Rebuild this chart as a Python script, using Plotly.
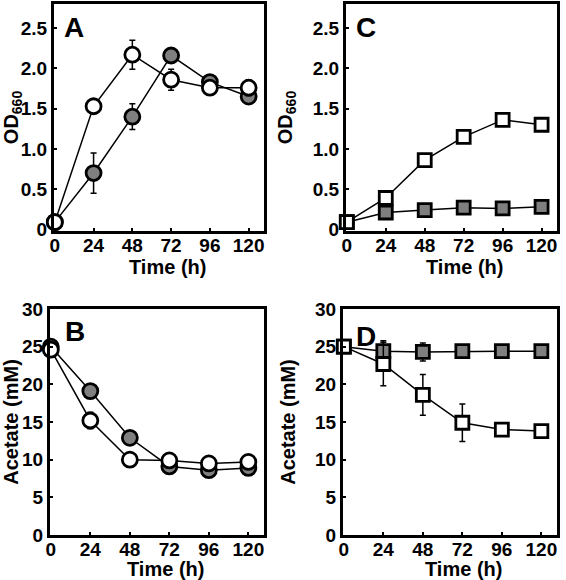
import plotly.graph_objects as go

time_h = [0, 24, 48, 72, 96, 120]
x_ticks = [0, 24, 48, 72, 96, 120]

# Panel A: OD660 (circles)
a_gray = [0.09, 0.70, 1.40, 2.16, 1.83, 1.65]
a_gray_err = [0.0, 0.25, 0.16, 0.0, 0.0, 0.0]
a_open = [0.09, 1.53, 2.17, 1.86, 1.76, 1.76]
a_open_err = [0.0, 0.0, 0.18, 0.13, 0.0, 0.1]

# Panel B: Acetate (circles)
b_gray = [25.0, 19.1, 12.9, 9.1, 8.6, 8.9]
b_gray_err = [0, 0, 0, 0, 0, 0]
b_open = [24.6, 15.2, 10.0, 9.9, 9.5, 9.7]
b_open_err = [0, 1.1, 0, 0, 0, 0]

# Panel C: OD660 (squares)
c_gray = [0.09, 0.21, 0.24, 0.27, 0.26, 0.28]
c_open = [0.09, 0.39, 0.86, 1.15, 1.36, 1.30]

# Panel D: Acetate (squares)
d_gray = [25.0, 24.4, 24.3, 24.4, 24.4, 24.4]
d_gray_err = [0, 1.4, 1.2, 0, 0, 0]
d_open = [25.0, 22.7, 18.6, 14.9, 14.0, 13.8]
d_open_err = [0, 2.9, 2.7, 2.5, 0, 0]

od_ticks = [0, 0.5, 1.0, 1.5, 2.0, 2.5]
od_labels = ["0", "0.5", "1.0", "1.5", "2.0", "2.5"]
ac_ticks = [0, 5, 10, 15, 20, 25, 30]
x_title = "Time (h)"

GRAY = "#7f7f7f"
FONT = "Liberation Sans"

fig = go.Figure()


def add(xa, ya, y, err, symbol, fill, size):
    fig.add_trace(go.Scatter(
        x=time_h, y=y, xaxis=xa, yaxis=ya, mode="lines+markers",
        line=dict(color="black", width=1.5),
        marker=dict(symbol=symbol, size=size, color=fill,
                    line=dict(color="black", width=2.8)),
        error_y=dict(type="data", array=err, visible=True,
                     color="black", thickness=1.5, width=3),
        showlegend=False, cliponaxis=False,
    ))


add("x", "y", a_gray, a_gray_err, "circle", GRAY, 15)
add("x", "y", a_open, a_open_err, "circle", "white", 15)
add("x2", "y2", c_gray, [0] * 6, "square", GRAY, 13)
add("x2", "y2", c_open, [0] * 6, "square", "white", 13)
add("x3", "y3", b_gray, b_gray_err, "circle", GRAY, 15)
add("x3", "y3", b_open, b_open_err, "circle", "white", 15)
add("x4", "y4", d_gray, d_gray_err, "square", GRAY, 13)
add("x4", "y4", d_open, d_open_err, "square", "white", 13)

tickfont = dict(family=FONT, size=19, color="black", weight="bold")
titlefont = dict(family=FONT, size=20, color="black", weight="bold")


def xaxis(domain, anchor):
    return dict(domain=domain, anchor=anchor, range=[-0.5, 129.5],
                automargin=False, ticklabelstandoff=-5,
                tickvals=x_ticks, ticks="inside", ticklen=3, tickwidth=2,
                tickcolor="black", showline=True, linewidth=3,
                linecolor="black", mirror=True, showgrid=False,
                zeroline=False, tickfont=tickfont)


def yaxis(domain, anchor, rng, tv, tt, title):
    return dict(domain=domain, anchor=anchor, range=rng, tickvals=tv,
                automargin=False,
                ticktext=tt, ticks="inside", ticklen=3, tickwidth=2,
                tickcolor="black", showline=True, linewidth=3,
                linecolor="black", mirror=True, showgrid=False,
                zeroline=False, tickfont=tickfont,
                title=dict(text=title, font=titlefont))


top = [1 - 231 / 580, 1 - 4 / 580]
bot = [1 - 535 / 580, 1 - 309 / 580]

fig.update_layout(
    width=566, height=580, autosize=False,
    margin=dict(l=0, r=0, t=0, b=0, pad=0),
    paper_bgcolor="white", plot_bgcolor="white",
    xaxis=xaxis([54 / 566, 264 / 566], "y"),
    yaxis=yaxis(top, "x", [-0.02, 2.8], od_ticks, od_labels, "OD<sub>660</sub>"),
    xaxis2=xaxis([346 / 566, 557 / 566], "y2"),
    yaxis2=yaxis(top, "x2", [-0.02, 2.8], od_ticks, od_labels, "OD<sub>660</sub>"),
    xaxis3=xaxis([50 / 566, 264 / 566], "y3"),
    yaxis3=yaxis(bot, "x3", [0, 30], ac_ticks, [str(v) for v in ac_ticks], "Acetate (mM)"),
    xaxis4=xaxis([343 / 566, 557 / 566], "y4"),
    yaxis4=yaxis(bot, "x4", [0, 30], ac_ticks, [str(v) for v in ac_ticks], "Acetate (mM)"),
)

# x-axis titles placed under each panel
for cx, cy in [(167, 267), (464, 267), (166, 569), (463, 569)]:
    fig.add_annotation(text=x_title, xref="paper", yref="paper",
                       x=cx / 566, y=1 - cy / 580, xanchor="center",
                       yanchor="middle", showarrow=False, font=titlefont)

letters = [("A", "x", "y", 0.04, 0.895), ("C", "x2", "y2", 0.04, 0.895),
           ("B", "x3", "y3", 0.06, 0.9), ("D", "x4", "y4", 0.05, 0.88)]
for txt, xa, ya, xx, yy in letters:
    fig.add_annotation(text=txt, xref=xa + " domain", yref=ya + " domain",
                       x=xx, y=yy, xanchor="left", yanchor="middle",
                       showarrow=False,
                       font=dict(family=FONT, size=28, color="black", weight="bold"))

fig.write_html("out.html", config={"displayModeBar": False})

with open("out.html", encoding="utf-8") as f:
    html = f.read()
html = html.replace("<head>", "<head><style>html,body{margin:0;padding:0;overflow:hidden;}</style>", 1)
with open("out.html", "w", encoding="utf-8") as f:
    f.write(html)
